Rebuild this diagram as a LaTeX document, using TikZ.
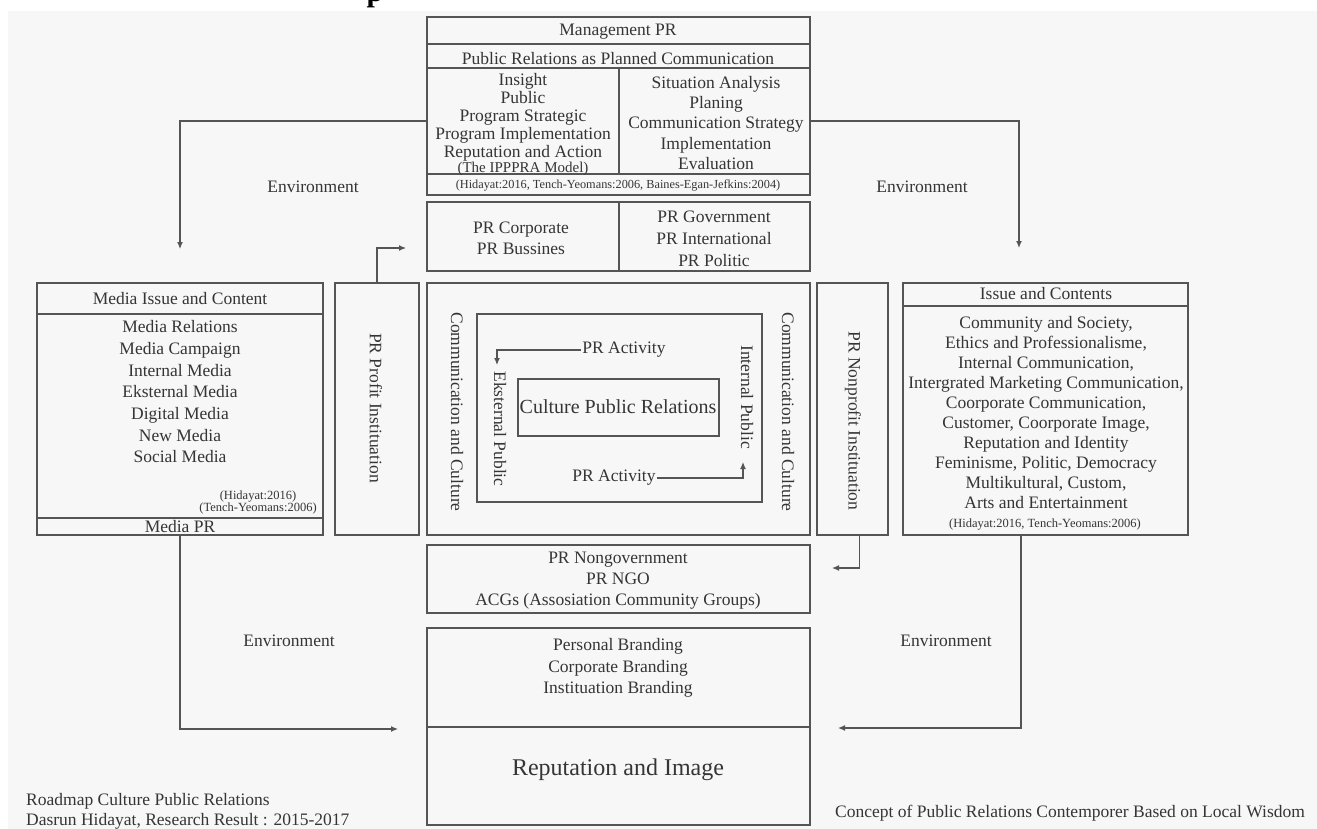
\documentclass[tikz,border=0pt]{standalone}
\usepackage{fontspec}
\setmainfont{Liberation Serif}
\usetikzlibrary{arrows.meta}
\definecolor{bgc}{HTML}{F7F7F7}
\definecolor{linec}{HTML}{555555}
\definecolor{txtc}{HTML}{353535}
\begin{document}
\begin{tikzpicture}[x=1pt,y=-1pt,
  box/.style={draw=linec, line width=1.2pt, anchor=north west, inner sep=0pt, outer sep=0pt},
  sep/.style={draw=linec, line width=1.2pt},
  txt/.style={text=txtc, inner sep=0pt, align=center, font=\fontsize{17.5}{21}\selectfont},
  small/.style={text=txtc, inner sep=0pt, align=center, font=\fontsize{12.3}{12}\selectfont},
  vtxt/.style={txt, rotate=-90},
  arr/.style={draw=linec, line width=1.2pt, -{Latex[length=7pt,width=6pt]}}
]
\useasboundingbox (0,0) rectangle (1317,829);
\fill[white] (0,0) rectangle (1317,829);
\fill[bgc] (8,11) rectangle (1317,829);
\node[text=black, inner sep=0pt, anchor=base, font=\bfseries\fontsize{30}{30}\selectfont] (ttl) at (375,2) {p};

% ---------- boxes ----------
\node[box, minimum width=383pt, minimum height=178pt] (mgmt) at (427,17) {};
\draw[sep] (427,44) -- (810,44);
\draw[sep] (427,68) -- (810,68);
\draw[sep] (427,174) -- (810,174);
\draw[sep] (619,68) -- (619,174);

\node[box, minimum width=383pt, minimum height=69pt] (corp) at (427,202) {};
\draw[sep] (619,202) -- (619,271);

\node[box, minimum width=286pt, minimum height=252pt] (media) at (37,283) {};
\draw[sep] (37,314) -- (323,314);
\draw[sep] (37,518) -- (323,518);

\node[box, minimum width=84pt, minimum height=252pt] (profit) at (335,283) {};
\node[box, minimum width=383pt, minimum height=252pt] (center) at (427,283) {};
\node[box, minimum width=285pt, minimum height=188pt] (inner) at (477,314) {};
\node[box, minimum width=201pt, minimum height=57pt] (cpr) at (518,379) {};
\node[box, minimum width=71pt, minimum height=252pt] (nonprofit) at (817,283) {};

\node[box, minimum width=285pt, minimum height=252pt] (issue) at (903,283) {};
\draw[sep] (903,306) -- (1188,306);

\node[box, minimum width=383pt, minimum height=68pt] (ngo) at (427,545) {};
\node[box, minimum width=383pt, minimum height=197pt] (brand) at (427,628) {};
\draw[sep] (427,727) -- (810,727);

% ---------- top texts ----------
\node[txt] (tMgmt) at (618,32) {Management PR};
\node[txt] (tPlan) at (618,59) {Public Relations as Planned Communication};
\node[txt, font=\fontsize{17.5}{18.1}\selectfont] (tIpp) at (523,117)
  {Insight\\Public\\Program Strategic\\Program Implementation\\Reputation and Action};
\node[txt, font=\fontsize{15}{15}\selectfont] (tModel) at (523,169) {(The IPPPRA Model)};
\node[txt, font=\fontsize{17.5}{20.25}\selectfont] (tSit) at (716,123)
  {Situation Analysis\\Planing\\Communication Strategy\\Implementation\\Evaluation};
\node[small] (tCit) at (618,185) {(Hidayat:2016, Tench-Yeomans:2006, Baines-Egan-Jefkins:2004)};

\node[txt] (tCorp) at (521,238) {PR Corporate\\PR Bussines};
\node[txt, font=\fontsize{17.5}{22}\selectfont] (tGov) at (714,239) {PR Government\\PR International\\PR Politic};

% ---------- environment labels ----------
\node[txt] (envTL) at (313,187) {Environment};
\node[txt] (envTR) at (922,187) {Environment};
\node[txt] (envBL) at (289,641) {Environment};
\node[txt] (envBR) at (946,641) {Environment};

% ---------- left box ----------
\node[txt] (tMediaH) at (180,299) {Media Issue and Content};
\node[txt, font=\fontsize{17.5}{21.67}\selectfont] (tMedia) at (180,392)
  {Media Relations\\Media Campaign\\Internal Media\\Eksternal Media\\Digital Media\\New Media\\Social Media};
\node[small, font=\fontsize{12.5}{12}\selectfont] (tMediaCit) at (258,502) {(Hidayat:2016)\\(Tench-Yeomans:2006)};
\node[txt] (tMediaPR) at (180,527) {Media PR};

\node[vtxt] (tProfit) at (376,408) {PR Profit Instituation};
\node[vtxt] (tNonprofit) at (853,421) {PR Nonprofit Instituation};

% ---------- center ----------
\node[vtxt] (tCacL) at (457,412) {Communication and Culture};
\node[vtxt] (tCacR) at (788,412) {Communication and Culture};
\node[vtxt] (tEks) at (500,429) {Eksternal Public};
\node[vtxt] (tInt) at (747,397) {Internal Public};
\node[txt, inner sep=1.5pt] (act1) at (624,350) {PR Activity};
\node[txt, inner sep=1.5pt] (act2) at (614,478) {PR Activity};
\node[txt, font=\fontsize{20}{24}\selectfont] (tCpr) at (618,407) {Culture Public Relations};

% ---------- right box ----------
\node[txt] (tIssueH) at (1046,294) {Issue and Contents};
\node[txt, font=\fontsize{17.5}{20.1}\selectfont] (tIssue) at (1046,412.5)
  {Community and Society,\\Ethics and Professionalisme,\\Internal Communication,\\Intergrated Marketing Communication,\\Coorporate Communication,\\Customer, Coorporate Image,\\Reputation and Identity\\Feminisme, Politic, Democracy\\Multikultural, Custom,\\Arts and Entertainment};
\node[small, font=\fontsize{12.5}{12}\selectfont] (tIssueCit) at (1045,525) {(Hidayat:2016, Tench-Yeomans:2006)};

% ---------- bottom ----------
\node[txt, font=\fontsize{17.5}{21}\selectfont] (tNgo) at (618,581) {PR Nongovernment\\PR NGO\\ACGs (Assosiation Community Groups)};
\node[txt, font=\fontsize{17.5}{21.5}\selectfont] (tBrand) at (618,668) {Personal Branding\\Corporate Branding\\Instituation Branding};
\node[txt, font=\fontsize{24}{28}\selectfont] (tRep) at (618,770) {Reputation and Image};

\node[txt, align=left, anchor=west, font=\fontsize{17.5}{20}\selectfont] (tRoad) at (26,811) {Roadmap Culture Public Relations\\Dasrun Hidayat, Research Result : 2015-2017};
\node[txt, anchor=west] (tConcept) at (835,813) {Concept of Public Relations Contemporer Based on Local Wisdom};

% ---------- connectors ----------
\coordinate (mediaTip) at (180,249);
\coordinate (issueTip) at (1019,248);
\coordinate (corpTip) at (406,248);
\coordinate (ngoTip) at (832,568);
\coordinate (brandTipL) at (398,729);
\coordinate (brandTipR) at (838,728);
\coordinate (eksTip) at (497,365);
\coordinate (intTip) at (743,462);

\draw[arr] ([yshift=-15pt]mgmt.west) -| (mediaTip);
\draw[arr] ([yshift=-15pt]mgmt.east) -| (issueTip);
\draw[arr] (profit.north) |- (corpTip);
\draw[arr] ([xshift=7pt]nonprofit.south) |- (ngoTip);
\draw[arr] (media.south) |- (brandTipL);
\draw[arr] ([xshift=-24.5pt]issue.south) |- (brandTipR);
\draw[arr] (act1.west) -| (eksTip);
\draw[arr] (act2.east) -| (intTip);
\end{tikzpicture}
\end{document}
